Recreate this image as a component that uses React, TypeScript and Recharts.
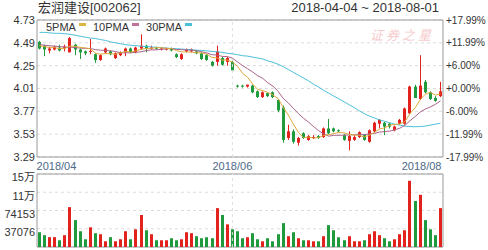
import React from "react"
import { ComposedChart, BarChart, Bar, Line, XAxis, YAxis, CartesianGrid, ReferenceLine, ReferenceArea } from "recharts"

// trading days 2018-04-04 .. 2018-08-01 (80 sessions shown)
const dates = [
  "2018-04-04", "2018-04-09", "2018-04-10", "2018-04-11", "2018-04-12", "2018-04-13",
  "2018-04-16", "2018-04-17", "2018-04-18", "2018-04-19", "2018-04-20",
  "2018-04-23", "2018-04-24", "2018-04-25", "2018-04-26", "2018-04-27",
  "2018-05-02", "2018-05-03", "2018-05-04",
  "2018-05-07", "2018-05-08", "2018-05-09", "2018-05-10", "2018-05-11",
  "2018-05-14", "2018-05-15", "2018-05-16", "2018-05-17", "2018-05-18",
  "2018-05-21", "2018-05-22", "2018-05-23", "2018-05-24", "2018-05-25",
  "2018-05-28", "2018-05-29", "2018-05-30", "2018-05-31",
  "2018-06-01", "2018-06-04", "2018-06-05", "2018-06-06", "2018-06-07", "2018-06-08",
  "2018-06-11", "2018-06-12", "2018-06-13", "2018-06-14", "2018-06-15",
  "2018-06-19", "2018-06-20", "2018-06-21", "2018-06-22",
  "2018-06-25", "2018-06-26", "2018-06-27", "2018-06-28", "2018-06-29",
  "2018-07-03", "2018-07-04", "2018-07-05", "2018-07-06",
  "2018-07-09", "2018-07-10", "2018-07-11", "2018-07-12", "2018-07-13",
  "2018-07-16", "2018-07-17", "2018-07-18", "2018-07-19", "2018-07-20",
  "2018-07-23", "2018-07-24", "2018-07-25", "2018-07-26", "2018-07-27",
  "2018-07-30", "2018-07-31", "2018-08-01",
]

const openP = [
  4.50, 4.46, 4.41, 4.42, 4.44, 4.43, 4.39, 4.47, 4.42, 4.40,
  4.40, 4.37, 4.31, 4.39, 4.40, 4.33, 4.36, 4.39, 4.43, 4.39,
  4.43, 4.46, 4.43, 4.44, 4.42, 4.42, 4.43, 4.37, 4.32, 4.40,
  4.40, 4.40, 4.38, 4.36, 4.29, 4.29, 4.33, 4.29, 4.29, 4.04,
  4.04, 4.03, 4.04, 3.98, 3.92, 3.96, 3.97, 3.89, 3.81, 3.49,
  3.56, 3.44, 3.54, 3.47, 3.49, 3.51, 3.50, 3.59, 3.59, 3.57,
  3.52, 3.46, 3.47, 3.50, 3.52, 3.45, 3.56, 3.64, 3.65, 3.64,
  3.57, 3.64, 3.64, 3.75, 4.03, 3.90, 4.08, 3.97, 3.91, 3.93,
]
const highP = [
  4.51, 4.47, 4.45, 4.46, 4.47, 4.47, 4.55, 4.48, 4.43, 4.41,
  4.53, 4.38, 4.37, 4.44, 4.41, 4.39, 4.40, 4.44, 4.44, 4.45,
  4.58, 4.47, 4.46, 4.45, 4.44, 4.44, 4.44, 4.38, 4.38, 4.43,
  4.43, 4.41, 4.39, 4.37, 4.30, 4.46, 4.34, 4.34, 4.30, 4.05,
  4.05, 4.05, 4.05, 3.99, 3.98, 3.97, 3.98, 3.90, 3.83, 3.63,
  3.58, 3.50, 3.55, 3.52, 3.52, 3.52, 3.60, 3.69, 3.60, 3.58,
  3.53, 3.56, 3.52, 3.56, 3.53, 3.58, 3.66, 3.69, 3.66, 3.65,
  3.62, 3.69, 3.81, 4.04, 4.05, 4.36, 4.10, 3.98, 3.93, 4.08,
]
const lowP = [
  4.42, 4.35, 4.38, 4.41, 4.40, 4.40, 4.39, 4.36, 4.32, 4.36,
  4.37, 4.28, 4.30, 4.38, 4.36, 4.32, 4.35, 4.35, 4.38, 4.38,
  4.42, 4.39, 4.42, 4.42, 4.41, 4.41, 4.40, 4.33, 4.31, 4.39,
  4.39, 4.37, 4.31, 4.30, 4.24, 4.25, 4.25, 4.25, 4.19, 4.02,
  4.02, 4.02, 3.96, 3.91, 3.91, 3.92, 3.91, 3.76, 3.44, 3.47,
  3.43, 3.41, 3.48, 3.46, 3.48, 3.48, 3.49, 3.53, 3.55, 3.55,
  3.46, 3.36, 3.46, 3.49, 3.46, 3.44, 3.55, 3.59, 3.52, 3.59,
  3.56, 3.63, 3.63, 3.74, 3.91, 3.89, 3.96, 3.89, 3.87, 3.92,
]
const closeP = [
  4.43, 4.42, 4.43, 4.45, 4.41, 4.45, 4.54, 4.42, 4.39, 4.38,
  4.405, 4.31, 4.36, 4.43, 4.37, 4.38, 4.39, 4.43, 4.39, 4.44,
  4.46, 4.43, 4.44, 4.43, 4.43, 4.43, 4.41, 4.34, 4.37, 4.42,
  4.42, 4.38, 4.32, 4.31, 4.25, 4.40, 4.26, 4.33, 4.20, 4.03,
  4.03, 4.05, 3.97, 3.92, 3.97, 3.93, 3.92, 3.78, 3.47, 3.56,
  3.45, 3.49, 3.49, 3.51, 3.50, 3.49, 3.59, 3.54, 3.56, 3.56,
  3.47, 3.51, 3.50, 3.55, 3.47, 3.57, 3.65, 3.68, 3.61, 3.61,
  3.61, 3.68, 3.80, 4.03, 3.91, 4.04, 3.97, 3.90, 3.88, 3.98,
]
const ma5 = [
  4.46, 4.45, 4.44, 4.44, 4.428, 4.432, 4.456, 4.454, 4.442, 4.436,
  4.428, 4.382, 4.37, 4.378, 4.376, 4.37, 4.386, 4.40, 4.392, 4.406,
  4.422, 4.43, 4.432, 4.44, 4.438, 4.432, 4.428, 4.408, 4.396, 4.394,
  4.392, 4.386, 4.382, 4.37, 4.336, 4.332, 4.308, 4.31, 4.288, 4.244,
  4.17, 4.128, 4.056, 4.00, 3.988, 3.968, 3.942, 3.904, 3.814, 3.732,
  3.636, 3.55, 3.492, 3.50, 3.488, 3.496, 3.516, 3.526, 3.536, 3.548,
  3.544, 3.528, 3.52, 3.518, 3.50, 3.52, 3.548, 3.584, 3.596, 3.624,
  3.632, 3.638, 3.662, 3.746, 3.806, 3.892, 3.95, 3.97, 3.94, 3.954,
]
const ma10 = [
  4.47, 4.465, 4.46, 4.455, 4.45, 4.445, 4.445, 4.44, 4.435, 4.432,
  4.43, 4.419, 4.412, 4.41, 4.406, 4.399, 4.384, 4.385, 4.385, 4.391,
  4.396, 4.408, 4.416, 4.416, 4.422, 4.427, 4.429, 4.42, 4.418, 4.416,
  4.412, 4.407, 4.395, 4.383, 4.365, 4.362, 4.347, 4.346, 4.329, 4.29,
  4.251, 4.218, 4.183, 4.144, 4.116, 4.069, 4.035, 3.98, 3.907, 3.86,
  3.802, 3.746, 3.698, 3.657, 3.61, 3.566, 3.533, 3.509, 3.518, 3.518,
  3.52, 3.522, 3.523, 3.527, 3.524, 3.532, 3.538, 3.552, 3.557, 3.562,
  3.576, 3.593, 3.623, 3.671, 3.715, 3.762, 3.794, 3.816, 3.843, 3.88,
]
const ma30 = [
  4.60, 4.60, 4.595, 4.59, 4.59, 4.585, 4.58, 4.57, 4.56, 4.55,
  4.54, 4.535, 4.525, 4.515, 4.50, 4.49, 4.48, 4.47, 4.465, 4.46,
  4.455, 4.45, 4.447, 4.443, 4.44, 4.435, 4.43, 4.428, 4.425, 4.42,
  4.416, 4.413, 4.41, 4.405, 4.40, 4.395, 4.39, 4.38, 4.375, 4.365,
  4.355, 4.35, 4.34, 4.33, 4.32, 4.30, 4.285, 4.265, 4.24, 4.21,
  4.18, 4.15, 4.12, 4.09, 4.055, 4.025, 3.99, 3.96, 3.93, 3.90,
  3.87, 3.84, 3.81, 3.775, 3.745, 3.72, 3.70, 3.68, 3.665, 3.65,
  3.635, 3.625, 3.615, 3.61, 3.608, 3.61, 3.615, 3.625, 3.635, 3.645,
]
const volume = [
  30000, 24000, 20000, 20000, 13700, 24000, 81000, 54600, 32000, 15700,
  40000, 28000, 26000, 11600, 20000, 11600, 15700, 32000, 15700, 36000,
  65000, 34000, 26000, 13700, 13700, 13700, 17800, 13700, 15700, 30000,
  28000, 21900, 17800, 19800, 17800, 79000, 65000, 46000, 36000, 32000,
  17800, 19800, 28000, 15700, 11600, 17800, 11600, 26000, 48500, 21900,
  30000, 17800, 13700, 13700, 11600, 11600, 21900, 44400, 34000, 19800,
  13700, 21900, 11600, 11600, 13700, 26000, 32000, 24000, 17800, 11600,
  15700, 26000, 34000, 134500, 93500, 106000, 54600, 36000, 24000, 79000,
]

const priceTicks = [4.73, 4.49, 4.25, 4.01, 3.77, 3.53, 3.29]
const pctLabels = ["+17.99%", "+11.99%", "+6.00%", "+0.00%", "-6.00%", "-11.99%", "-17.99%"]
const volTicks = [37076, 74153, 111229, 148306]
const volLabels = ["37076", "74153", "11万", "15万"]
const tickDates = ["2018-04-04", "2018-06-01", "2018-08-01"]
const tickLabels = ["2018/04", "2018/06", "2018/08"]

const legendItems = [
  { name: "5PMA", color: "#dcb542" },
  { name: "10PMA", color: "#c0739a" },
  { name: "30PMA", color: "#4cc0d8" },
]

const RED = "#e2231d"
const GREEN = "#1f9a3c"
const FRAME = "#9a9a9a"
const GRID = "#dcdcdc"
const FONT = "'Liberation Sans', 'Noto Sans CJK SC', Arial, sans-serif"

const rows = dates.map((date, i) => ({
  date,
  open: openP[i],
  high: highP[i],
  low: lowP[i],
  close: closeP[i],
  range: [lowP[i], highP[i]],
  ma5: ma5[i],
  ma10: ma10[i],
  ma30: ma30[i],
  vol: volume[i],
}))

function Candle(props: any) {
  const { x, y, width, height, payload } = props
  const { open, close, high, low } = payload
  const top = Math.min(y, y + height)
  const span = Math.abs(height)
  const k = span / (high - low)
  const left = Math.round(x + width / 2 - 1.5)
  const wx = left + 1.5
  const bodyTop = top + (high - Math.max(open, close)) * k
  const bodyH = Math.max(1, Math.abs(close - open) * k)
  const color = close >= open ? RED : GREEN
  return (
    <g>
      <line x1={wx} x2={wx} y1={top} y2={top + span} stroke={color} strokeWidth={1} />
      <rect x={left} y={bodyTop} width={3} height={bodyH} fill={color} />
    </g>
  )
}

function VolBar(props: any) {
  const { x, y, width, height, payload } = props
  const left = Math.round(x + width / 2 - 1.5)
  const color = payload.close >= payload.open ? RED : GREEN
  return <rect x={left} y={y} width={3} height={height} fill={color} />
}

function DateTick(props: any) {
  const { x, y, payload } = props
  const i = tickDates.indexOf(payload.value)
  const last = tickDates.length - 1
  const anchor = i === 0 ? "start" : i === last ? "end" : "middle"
  const dx = i === 0 ? -3 : i === last ? 1 : 0
  return (
    <text x={x + dx} y={y} dy="0.71em" textAnchor={anchor} fontSize={11} fill="#4d6988" fontFamily={FONT}>
      {tickLabels[i]}
    </text>
  )
}

function VolTick(props: any) {
  const { x, y, payload } = props
  const i = volTicks.indexOf(payload.value)
  return (
    <text x={x} y={y + 3.5} dy="0.355em" textAnchor="end" fontSize={11} fill="#333" fontFamily={FONT}>
      {volLabels[i]}
    </text>
  )
}

const axisText = { fontSize: 11, fill: "#333", fontFamily: FONT }
const pctText = { fontSize: 10, fill: "#333", fontFamily: FONT }

export default function App() {
  return (
    <div style={{ position: "absolute", left: 0, top: 0, width: 488, height: 250, background: "#fff", fontFamily: FONT }}>
      <div style={{ position: "absolute", left: 38, top: 0, fontSize: 13, color: "#333", lineHeight: "16px" }}>
        宏润建设[002062]
      </div>
      <div style={{ position: "absolute", right: 49, top: 0, fontSize: 13, color: "#333", lineHeight: "16px" }}>
        2018-04-04 ~ 2018-08-01
      </div>

      <div style={{ position: "absolute", left: 0, top: 0 }}>
        <ComposedChart width={488} height={171} data={rows} margin={{ top: 20, right: 0, left: 0, bottom: 0 }} barCategoryGap="0%">
          <CartesianGrid yAxisId="p" vertical={false} stroke={GRID} strokeDasharray="3 3" />
          <XAxis
            dataKey="date"
            ticks={tickDates}
            interval={0}
            tick={<DateTick />}
            tickLine={false}
            axisLine={false}
            tickSize={0}
            tickMargin={5}
            height={14}
          />
          <YAxis
            yAxisId="p"
            domain={[3.29, 4.73]}
            allowDataOverflow
            ticks={priceTicks}
            interval={0}
            tickFormatter={(v: number) => v.toFixed(2)}
            width={37}
            tickSize={0}
            tickMargin={2}
            tickLine={false}
            axisLine={false}
            tick={axisText}
          />
          <YAxis
            yAxisId="r"
            orientation="right"
            domain={[3.29, 4.73]}
            allowDataOverflow
            ticks={priceTicks}
            interval={0}
            tickFormatter={(v: number) => pctLabels[priceTicks.indexOf(v)]}
            width={45}
            tickSize={0}
            tickMargin={3}
            tickLine={false}
            axisLine={false}
            tick={pctText}
          />
          <ReferenceLine yAxisId="p" x="2018-06-01" stroke={GRID} strokeDasharray="3 3" />
          <Bar yAxisId="p" dataKey="range" shape={<Candle />} isAnimationActive={false} />
          <Line yAxisId="r" dataKey="ma30" stroke="#4cc0d8" strokeWidth={1} dot={false} isAnimationActive={false} />
          <Line yAxisId="r" dataKey="ma10" stroke="#a9648c" strokeWidth={1} dot={false} isAnimationActive={false} />
          <Line yAxisId="r" dataKey="ma5" stroke="#e0a93e" strokeWidth={1} dot={false} isAnimationActive={false} />
          <ReferenceArea yAxisId="p" y1={3.29} y2={4.73} fill="none" stroke={FRAME} strokeWidth={1} />
        </ComposedChart>
      </div>

      <div style={{ position: "absolute", left: 46, top: 21, display: "flex", alignItems: "flex-start", fontSize: 11, color: "#333", lineHeight: "13px" }}>
        {legendItems.map((it) => (
          <div key={it.name} style={{ display: "flex", alignItems: "flex-start", marginRight: 7 }}>
            <span>{it.name}</span>
            <span style={{ display: "inline-block", width: 7, height: 3, marginLeft: 3, marginTop: 2, background: it.color }} />
          </div>
        ))}
      </div>

      <div style={{ position: "absolute", left: 370, top: 25, fontSize: 13, color: "#f5cccc", letterSpacing: 3, fontStyle: "italic" }}>
        证券之星
      </div>

      <div style={{ position: "absolute", left: 0, top: 170 }}>
        <BarChart width={488} height={80} data={rows} margin={{ top: 4, right: 45, left: 0, bottom: 3 }} barCategoryGap="0%">
          <CartesianGrid vertical={false} stroke={GRID} strokeDasharray="3 3" />
          <XAxis dataKey="date" hide />
          <YAxis
            domain={[0, 148306]}
            allowDataOverflow
            ticks={volTicks}
            interval={0}
            width={37}
            tickSize={0}
            tickMargin={2}
            tickLine={false}
            axisLine={false}
            tick={<VolTick />}
          />
          <ReferenceLine x="2018-06-01" stroke={GRID} strokeDasharray="3 3" />
          <Bar dataKey="vol" shape={<VolBar />} isAnimationActive={false} />
          <ReferenceArea y1={0} y2={148306} fill="none" stroke={FRAME} strokeWidth={1} />
        </BarChart>
      </div>
    </div>
  )
}
